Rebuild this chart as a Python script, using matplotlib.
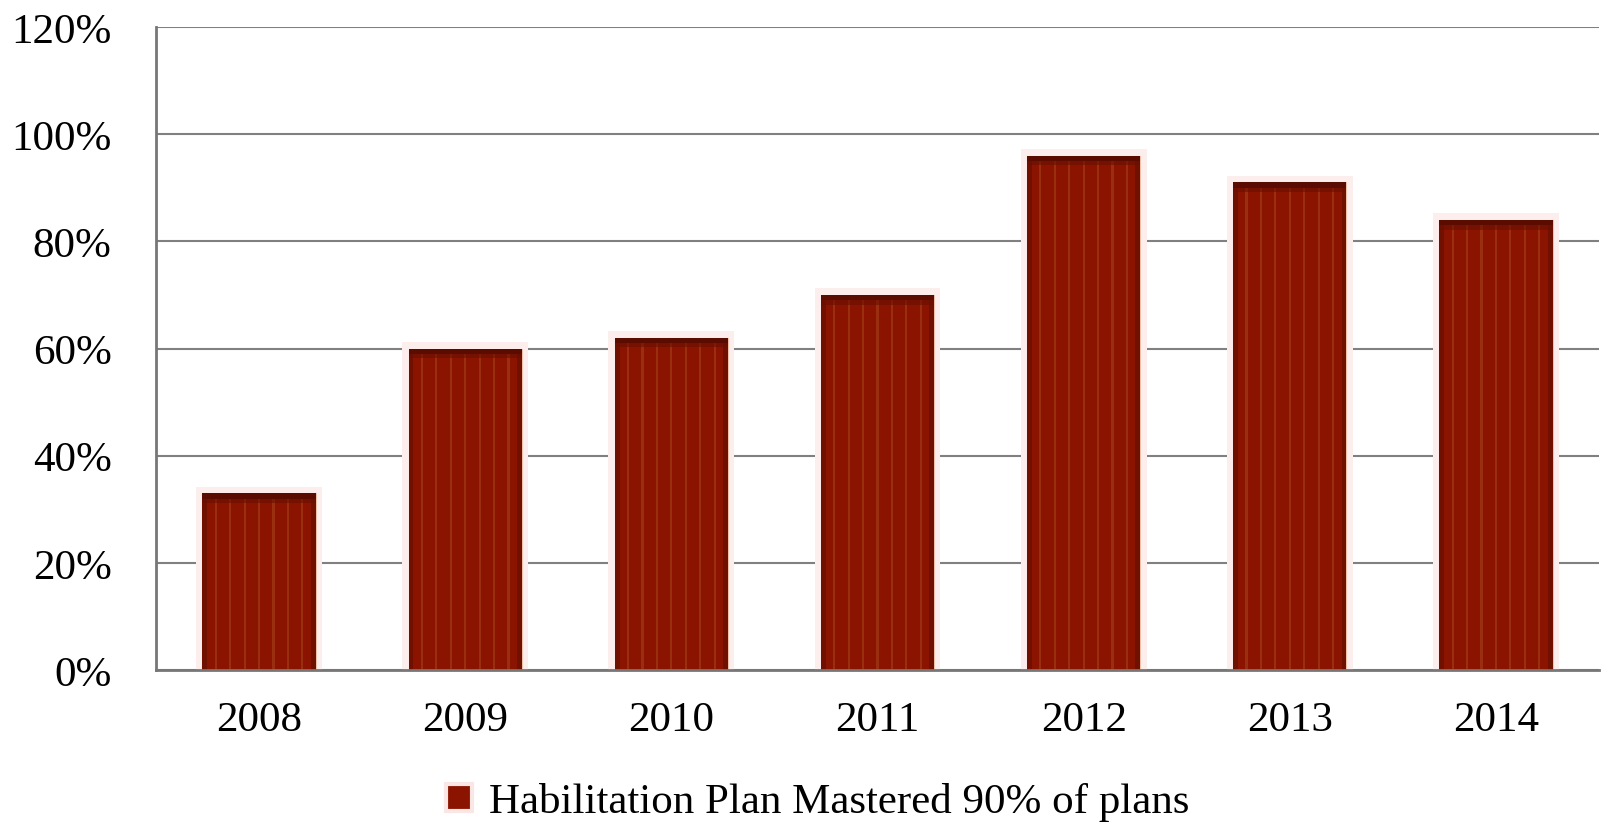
import numpy as np
import matplotlib.pyplot as plt
from matplotlib.patches import Patch

# data
years = ["2008", "2009", "2010", "2011", "2012", "2013", "2014"]
mastered = [33, 60, 62, 70, 96, 91, 84]
series_name = "Habilitation Plan Mastered 90% of plans"
y_ticks = [0, 20, 40, 60, 80, 100, 120]

plt.rcParams['font.family'] = ['Liberation Serif', 'DejaVu Serif']

W, H = 1603, 829
fig = plt.figure(figsize=(W / 100, H / 100), dpi=100)
ax = fig.add_axes([156 / W, 1 - 671 / H, (1599 - 156) / W, (671 - 28) / H])

x = np.arange(len(years))
vals = np.array(mastered, dtype=float)
bar_w = 0.55

# pale glow behind each bar
ax.bar(x, vals + 2.4, width=bar_w + 0.06, bottom=-1.2, color="#fdeeee", zorder=2)
# main bar body
ax.bar(x, vals, width=bar_w, color="#8a1400", edgecolor="#f0c0a8", linewidth=0.8, zorder=3)
# darker sides
for side in (-1, 1):
    ax.bar(x + side * (bar_w / 2 - 0.012), vals, width=0.024, color="#701000", zorder=4)
# faint vertical stripes
for off in np.linspace(-0.21, 0.21, 7):
    ax.bar(x + off, vals, width=0.011, color="#a8461c", alpha=0.55, zorder=4)
# dark top band
ax.bar(x, np.full(len(x), 1.0), width=bar_w, bottom=vals - 1.0, color="#5a0c00", zorder=5)
ax.bar(x, np.full(len(x), 0.8), width=bar_w, bottom=vals - 1.8, color="#6a0e00", alpha=0.6, zorder=5)

ax.set_xlim(-0.5, len(years) - 0.5)
ax.set_ylim(0, 120)
ax.set_yticks(y_ticks)
ax.set_yticklabels([f"{t}%" for t in y_ticks])
ax.set_xticks(x)
ax.set_xticklabels(years)
ax.tick_params(axis="both", length=0, labelsize=31, colors="black")
ax.tick_params(axis="y", pad=32)
ax.tick_params(axis="x", pad=22)

ax.grid(axis="y", color="#808080", linewidth=1.5, zorder=1)
ax.set_axisbelow(True)
for s in ["top", "right"]:
    ax.spines[s].set_visible(False)
for s in ["left", "bottom"]:
    ax.spines[s].set_color("#777777")
    ax.spines[s].set_linewidth(2)
    ax.spines[s].set_zorder(6)

handle = Patch(facecolor="#8a1400", edgecolor="#fbe6e6", linewidth=3)
fig.legend([handle], [series_name], loc="center", bbox_to_anchor=(818 / W, 1 - 803 / H),
           frameon=False, fontsize=31, handlelength=0.6, handleheight=0.6, handletextpad=0.4)

fig.savefig("out.png", dpi=100)
